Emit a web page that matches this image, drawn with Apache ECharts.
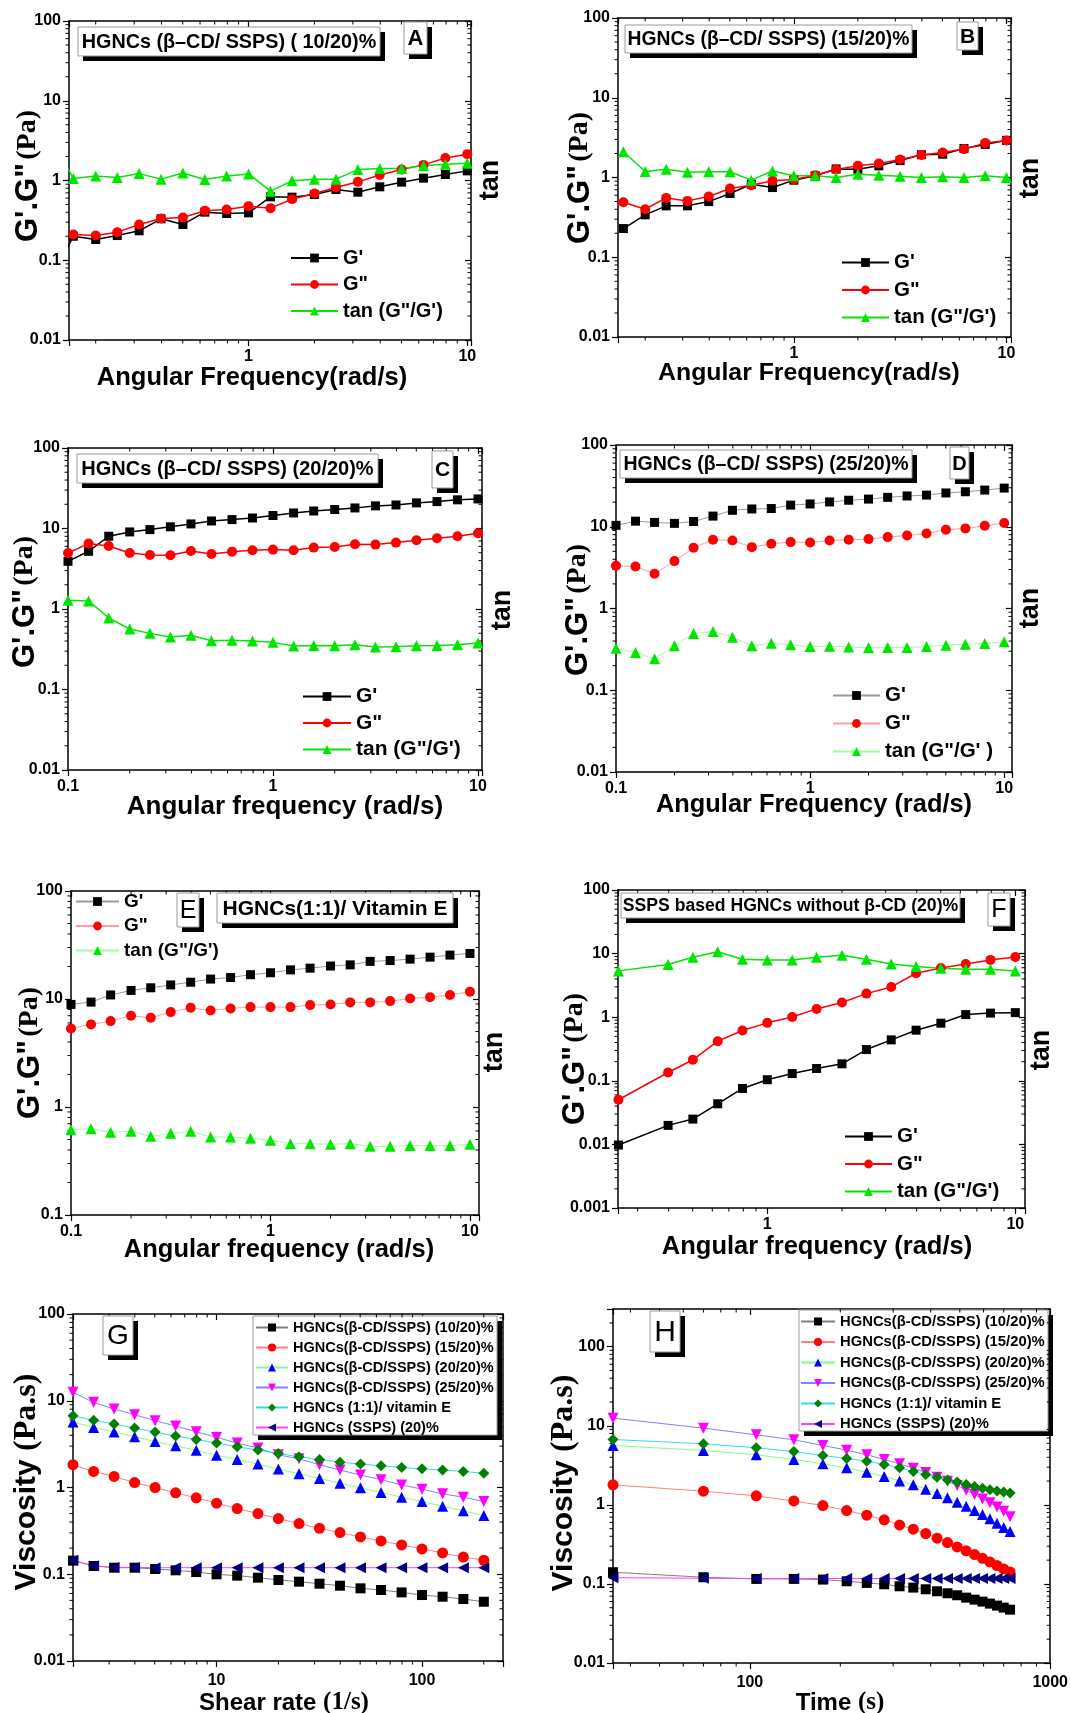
<!DOCTYPE html>
<html><head><meta charset="utf-8">
<script src="https://cdn.jsdelivr.net/npm/echarts/dist/echarts.min.js"></script>
<style>html,body{margin:0;padding:0;background:#fff}#c{width:1071px;height:1713px}</style>
</head><body><div id="c"></div><script>
// ---------------- DATA ----------------
const freqAB = [0.126,0.158,0.2,0.251,0.316,0.398,0.501,0.631,0.794,1,1.26,1.58,2,2.51,3.16,3.98,5.01,6.31,7.94,10];
const freq21 = [0.1,0.126,0.158,0.2,0.251,0.316,0.398,0.501,0.631,0.794,1,1.26,1.58,2,2.51,3.16,3.98,5.01,6.31,7.94,10];
const freqF = [0.251,0.398,0.501,0.631,0.794,1,1.26,1.58,2,2.51,3.16,3.98,5.01,6.31,7.94,10];
const shearRate = [2,2.52,3.17,3.99,5.02,6.32,7.96,10,12.6,15.9,20,25.2,31.7,39.9,50.2,63.2,79.6,100,126,159,200];
const timeS = [35,70,105,140,175,210,245,280,315,350,385,420,455,490,525,560,595,630,665,700,735];

const A_Gp  = [0.06,0.200,0.182,0.204,0.234,0.331,0.281,0.401,0.386,0.393,0.624,0.618,0.667,0.771,0.714,0.833,0.953,1.07,1.19,1.32];
const A_Gpp = [null,0.210,0.204,0.225,0.281,0.334,0.344,0.417,0.433,0.477,0.450,0.583,0.687,0.817,0.962,1.17,1.37,1.57,1.91,2.14];
const A_tan = [3.3,1.06,1.14,1.09,1.22,1.04,1.24,1.03,1.14,1.21,0.735,0.99,1.04,1.04,1.37,1.41,1.41,1.53,1.60,1.65];

const B_Gp  = [null,0.229,0.340,0.441,0.441,0.499,0.630,0.824,0.748,0.926,1.05,1.28,1.27,1.40,1.63,1.93,1.96,2.31,2.60,2.92];
const B_Gpp = [0.37,0.490,0.400,0.555,0.509,0.577,0.727,0.801,0.908,0.944,1.07,1.26,1.40,1.50,1.68,1.91,2.06,2.27,2.70,2.92];
const B_tan = [null,2.10,1.19,1.27,1.16,1.18,1.18,0.926,1.21,1.05,1.05,1.00,1.10,1.07,1.04,1.00,1.02,1.00,1.05,1.00];

const C_Gp  = [3.91,5.21,8.01,9.07,9.69,10.5,11.4,12.4,12.9,13.5,14.5,15.6,16.5,17.2,18.0,19.1,19.6,20.8,21.6,22.7,23.3];
const C_Gpp = [4.97,6.49,6.07,4.97,4.69,4.65,5.26,4.83,5.16,5.36,5.47,5.36,5.79,5.90,6.37,6.31,6.68,7.14,7.56,8.01,8.74];
const C_tan = [1.28,1.26,0.773,0.564,0.498,0.449,0.471,0.404,0.408,0.400,0.385,0.347,0.353,0.350,0.360,0.337,0.340,0.350,0.353,0.360,0.378];

const D_Gp  = [10.4,11.7,11.3,11.0,11.6,13.5,15.9,16.5,16.7,18.4,19.0,20.1,21.1,21.8,22.9,23.8,24.4,25.9,26.8,28.1,29.7];
const D_Gpp = [3.33,3.27,2.66,3.80,5.53,6.93,6.80,5.63,6.19,6.49,6.43,6.80,6.93,7.06,7.47,7.83,8.28,9.19,9.55,10.3,11.1];
const D_tan = [0.327,0.289,0.242,0.349,0.494,0.523,0.446,0.349,0.376,0.359,0.342,0.346,0.339,0.330,0.333,0.333,0.342,0.356,0.366,0.373,0.391];

const E_Gp  = [8.91,9.36,10.9,12.0,12.7,13.5,14.3,15.3,15.8,16.8,17.5,18.6,19.3,20.2,20.7,22.3,22.7,23.4,24.4,25.5,26.4];
const E_Gpp = [5.34,5.82,6.24,7.00,6.70,7.56,8.29,7.84,8.18,8.41,8.41,8.41,8.78,8.91,9.30,9.30,9.56,10.1,10.4,10.9,11.7];
const E_tan = [0.617,0.630,0.583,0.596,0.535,0.571,0.596,0.528,0.528,0.513,0.492,0.458,0.458,0.452,0.458,0.432,0.432,0.439,0.439,0.439,0.452];

const F_Gp  = [0.00977,0.0199,0.0250,0.0435,0.0758,0.104,0.130,0.156,0.185,0.310,0.440,0.625,0.805,1.10,1.16,1.18];
const F_Gpp = [0.0503,0.135,0.214,0.420,0.618,0.815,1.01,1.35,1.70,2.35,2.99,4.91,5.95,6.88,7.96,8.87];
const F_tan = [5.35,6.72,8.75,10.7,8.15,7.95,7.95,8.75,9.41,8.15,6.88,6.25,5.89,5.67,5.67,5.35];

const G_s1 = [0.1435,0.1245,0.119,0.119,0.115,0.111,0.106,0.0998,0.0964,0.0913,0.0859,0.0821,0.0778,0.0738,0.0688,0.0658,0.0618,0.0576,0.0551,0.0518,0.0482];
const G_s2 = [1.83,1.53,1.34,1.14,1.0,0.868,0.760,0.659,0.572,0.501,0.439,0.384,0.339,0.302,0.269,0.242,0.218,0.196,0.176,0.158,0.145];
const G_s3 = [5.68,4.93,4.36,3.85,3.40,3.03,2.68,2.36,2.10,1.86,1.63,1.44,1.27,1.12,0.991,0.875,0.773,0.689,0.609,0.538,0.475];
const G_s4 = [12.5,9.59,8.03,6.90,5.89,5.11,4.40,3.78,3.25,2.85,2.38,2.14,1.83,1.59,1.39,1.23,1.07,0.957,0.845,0.773,0.689];
const G_s5 = [6.72,5.94,5.39,4.84,4.36,3.92,3.58,3.25,2.95,2.70,2.47,2.26,2.10,1.96,1.86,1.78,1.70,1.64,1.59,1.53,1.46];
const G_s6 = [0.145,0.125,0.12,0.12,0.119,0.119,0.119,0.119,0.119,0.119,0.119,0.119,0.119,0.119,0.119,0.119,0.119,0.119,0.119,0.119,0.119];

const H_s1 = [0.1406,0.1215,0.1157,0.1157,0.1135,0.108,0.103,0.099,0.0934,0.0899,0.0856,0.0808,0.0762,0.0719,0.0671,0.0633,0.0598,0.0564,0.0532,0.0502,0.0473];
const H_s2 = [1.79,1.49,1.30,1.12,0.981,0.848,0.740,0.646,0.558,0.492,0.434,0.379,0.334,0.294,0.262,0.235,0.211,0.190,0.171,0.155,0.142];
const H_s3 = [5.64,4.87,4.30,3.75,3.30,2.94,2.59,2.28,2.01,1.79,1.58,1.39,1.23,1.08,0.962,0.848,0.755,0.665,0.586,0.517,0.460];
const H_s4 = [12.5,9.34,7.69,6.65,5.64,4.92,4.30,3.75,3.30,2.91,2.57,2.24,1.99,1.76,1.53,1.35,1.19,1.06,0.943,0.832,0.705];
const H_s5 = [6.71,5.92,5.27,4.73,4.21,3.86,3.57,3.24,2.94,2.64,2.42,2.24,2.07,1.94,1.81,1.71,1.62,1.55,1.50,1.45,1.41];
const H_s6 = [0.12,0.118,0.117,0.117,0.117,0.117,0.117,0.117,0.117,0.117,0.117,0.117,0.117,0.117,0.117,0.117,0.117,0.117,0.117,0.117,0.117];

const dmLabels = ["G'", 'G"', 'tan (G"/G\')'];
const dmLabelsD = ["G'", 'G"', 'tan (G"/G\' )'];
const viscLabels = ['HGNCs(β-CD/SSPS) (10/20)%','HGNCs(β-CD/SSPS) (15/20)%','HGNCs(β-CD/SSPS) (20/20)%','HGNCs(β-CD/SSPS) (25/20)%','HGNCs (1:1)/ vitamin E','HGNCs (SSPS) (20)%'];

// ---------------- LAYOUT / STYLE ----------------
const SANS = 'Arial, "Liberation Sans", Helvetica, sans-serif';
const SERIF = '"Times New Roman", "Liberation Serif", Times, serif';
const pairs = (xs, ys) => xs.map((x, i) => [x, ys[i]]).filter(p => p[1] != null);

function fmtLog(v) {
  const l = Math.log10(v);
  if (Math.abs(l - Math.round(l)) > 1e-6) return '';
  const p = Math.round(l);
  return p < 0 ? Math.pow(10, p).toFixed(-p) : String(Math.round(Math.pow(10, p)));
}
function minorVals(r) {
  const out = [];
  for (let d = Math.floor(Math.log10(r[0])); d <= Math.ceil(Math.log10(r[1])); d++) {
    for (let m = 2; m <= 9; m++) { const v = m * Math.pow(10, d); if (v > r[0] * 1.0001 && v < r[1] * 0.9999) out.push(v); }
  }
  return out;
}

const panels = [
  {key:'A', grid:{left:69,top:21,width:402,height:319}, x:[0.151,10.4], y:[0.01,100], lm:9},
  {key:'B', grid:{left:618,top:18,width:393,height:319}, x:[0.149,10.5], y:[0.01,100], lm:9},
  {key:'C', grid:{left:68,top:448,width:414,height:322}, x:[0.1,10.46], y:[0.01,100], lm:9},
  {key:'D', grid:{left:616,top:445,width:396,height:327}, x:[0.1,10.97], y:[0.01,100], lm:9},
  {key:'E', grid:{left:71,top:891,width:408,height:324}, x:[0.1,11.1], y:[0.1,100], lm:9},
  {key:'F', grid:{left:618,top:890,width:407,height:318}, x:[0.25,10.94], y:[0.001,100], lm:9},
  {key:'G', grid:{left:73,top:1314,width:430,height:347}, x:[2,248], y:[0.01,100], lm:12},
  {key:'H', grid:{left:613,top:1309,width:441,height:354}, x:[35,1000], y:[0.01,300], lm:12}
];

const grid = [], xAxis = [], yAxis = [], series = [], legend = [], graphic = [];

panels.forEach((p, i) => {
  grid.push(Object.assign({containLabel:false}, p.grid));
  ['bottom','top'].forEach(pos => xAxis.push({
    type:'log', logBase:10, gridIndex:i, min:p.x[0], max:p.x[1], position:pos,
    axisLine:{show:true, lineStyle:{color:'#000', width:1.5}},
    axisTick:{show:true, inside:pos==='top', length:6, lineStyle:{color:'#000', width:1.2}},
    minorTick:{show:false},
    axisLabel:{show:pos==='bottom', formatter:fmtLog, color:'#000', fontSize:16, fontWeight:'bold', fontFamily:SANS, margin:p.lm},
    splitLine:{show:false}
  }));
  ['left','right'].forEach(pos => yAxis.push({
    type:'log', logBase:10, gridIndex:i, min:p.y[0], max:p.y[1], position:pos,
    axisLine:{show:true, lineStyle:{color:'#000', width:1.5}},
    axisTick:{show:true, inside:pos==='right', length:6, lineStyle:{color:'#000', width:1.2}},
    minorTick:{show:false},
    axisLabel:{show:pos==='left', formatter:fmtLog, color:'#000', fontSize:16, fontWeight:'bold', fontFamily:SANS, margin:8},
    splitLine:{show:false}
  }));
  // minor log ticks (2..9 x 10^n) placed through the axes' own scales
  const mx = minorVals(p.x), my = minorVals(p.y);
  series.push({
    type:'custom', xAxisIndex:2*i, yAxisIndex:2*i, silent:true, clip:false, z:3,
    encode:{x:0, y:1}, tooltip:{show:false},
    data: mx.map(v => [v, p.y[0], 0]).concat(my.map(v => [p.x[0], v, 1])),
    renderItem(params, api) {
      const cs = params.coordSys, L = 3.5, st = {stroke:'#000', lineWidth:1};
      const lines = [];
      if (api.value(2) === 0) {
        const cx = api.coord([api.value(0), p.y[0]])[0];
        lines.push({type:'line', shape:{x1:cx, y1:cs.y + cs.height, x2:cx, y2:cs.y + cs.height + L}, style:st});
        lines.push({type:'line', shape:{x1:cx, y1:cs.y, x2:cx, y2:cs.y + L}, style:st});
      } else {
        const cy = api.coord([p.x[0], api.value(1)])[1];
        lines.push({type:'line', shape:{x1:cs.x, y1:cy, x2:cs.x - L, y2:cy}, style:st});
        lines.push({type:'line', shape:{x1:cs.x + cs.width, y1:cy, x2:cs.x + cs.width - L, y2:cy}, style:st});
      }
      return {type:'group', children:lines};
    }
  });
});

// dynamic-mechanical panels
const dmSets = [
  {k:'A', gi:0, f:freqAB, d:[A_Gp, A_Gpp, A_tan], light:false, lab:dmLabels},
  {k:'B', gi:1, f:freqAB, d:[B_Gp, B_Gpp, B_tan], light:false, lab:dmLabels},
  {k:'C', gi:2, f:freq21, d:[C_Gp, C_Gpp, C_tan], light:false, lab:dmLabels},
  {k:'D', gi:3, f:freq21, d:[D_Gp, D_Gpp, D_tan], light:true, lab:dmLabelsD},
  {k:'E', gi:4, f:freq21, d:[E_Gp, E_Gpp, E_tan], light:true, lab:dmLabels},
  {k:'F', gi:5, f:freqF,  d:[F_Gp, F_Gpp, F_tan], light:false, lab:dmLabels}
];
const dmSym = ['rect','circle','triangle'];
const dmCol = ['#000000','#ff0000','#00e600'];
const dmLight = ['#9a9a9a','#ff9c9c','#9cff9c'];
const dmSize = [9,10,11];
dmSets.forEach(s => {
  s.d.forEach((arr, j) => series.push({
    type:'line', name:s.k + '|' + s.lab[j], xAxisIndex:2*s.gi, yAxisIndex:2*s.gi,
    data:pairs(s.f, arr), symbol:dmSym[j], symbolSize:dmSize[j], showAllSymbol:true,
    itemStyle:{color:dmCol[j]}, lineStyle:{color:s.light ? dmLight[j] : dmCol[j], width:s.light ? 1 : 1.5},
    emphasis:{disabled:true}, clip:true
  }));
});

// viscosity panels
const vSym = ['rect','circle','triangle','triangle','diamond','triangle'];
const vRot = [0,0,0,180,0,90];
const vCol = ['#000000','#ff0000','#0000ff','#ff00ff','#008000','#000080'];
const vLine = ['#808080','#ff8080','#80ff80','#8080ff','#30e0e0','#ff40ff'];
const vSize = [10,11,11,11,11,11];
[{k:'G', gi:6, x:shearRate, d:[G_s1,G_s2,G_s3,G_s4,G_s5,G_s6]},
 {k:'H', gi:7, x:timeS, d:[H_s1,H_s2,H_s3,H_s4,H_s5,H_s6]}].forEach(s => {
  s.d.forEach((arr, j) => series.push({
    type:'line', name:s.k + '|' + viscLabels[j], xAxisIndex:2*s.gi, yAxisIndex:2*s.gi,
    data:pairs(s.x, arr), symbol:vSym[j], symbolRotate:vRot[j], symbolSize:vSize[j], showAllSymbol:true,
    itemStyle:{color:vCol[j]}, lineStyle:{color:vLine[j], width:1},
    emphasis:{disabled:true}, clip:true
  }));
});

// legends
const lgFmt = n => n.split('|')[1];
function addLegend(k, labels, left, top, w, h, gap, fs) {
  legend.push({orient:'vertical', left, top, padding:0, itemWidth:w, itemHeight:h, itemGap:gap,
    selectedMode:false, formatter:lgFmt, z:6,
    textStyle:{fontSize:fs, fontWeight:'bold', fontFamily:SANS, color:'#000'},
    data:labels.map(l => k + '|' + l)});
}
addLegend('A', dmLabels, 290, 248, 47, 11, 6.5, 20);
addLegend('B', dmLabels, 841, 252, 47, 11, 6.5, 20.5);
addLegend('C', dmLabels, 302, 686, 48, 11, 5.5, 21);
addLegend('D', dmLabelsD, 832, 685, 47, 11, 7, 20.5);
addLegend('E', dmLabels, 75, 892, 43, 11, 5.5, 19);
addLegend('F', dmLabels, 844, 1126, 47, 11, 6.5, 20.5);
addLegend('G', viscLabels, 255, 1320, 32, 10, 5, 14.5);
addLegend('H', viscLabels, 800, 1314, 34, 10, 5.5, 14.8);

// annotation boxes
function box(x, y, w, h, text, fs, bold, z, off) {
  off = off || 5;
  graphic.push({type:'rect', z:z, shape:{x:x+off, y:y+off, width:w, height:h}, style:{fill:'#000'}});
  graphic.push({type:'rect', z:z, shape:{x:x, y:y, width:w, height:h}, style:{fill:'#fff', stroke:'#9a9a9a', lineWidth:1}});
  if (text) graphic.push({type:'text', z:z, x:x + w/2, y:y + h/2 + 1,
    style:{text:text, fontSize:fs, fontWeight:bold ? 'bold' : 'normal', fontFamily:SANS, fill:'#000', align:'center', verticalAlign:'middle'}});
}
box(78, 27, 302, 29, 'HGNCs (β–CD/ SSPS) ( 10/20)%', 19.8, true, 8);
box(404, 22, 23, 32, 'A', 22, true, 8);
box(625, 25, 287, 28, 'HGNCs (β–CD/ SSPS) (15/20)%', 19.3, true, 8);
box(957, 22, 21, 28, 'B', 21, true, 8);
box(77, 454, 301, 29, 'HGNCs (β–CD/ SSPS) (20/20)%', 20, true, 8);
box(432, 451, 21, 37, 'C', 21, true, 8);
box(620, 450, 292, 28, 'HGNCs (β–CD/ SSPS) (25/20)%', 19.5, true, 8);
box(950, 447, 19, 32, 'D', 20, true, 8);
box(217, 893, 236, 30, 'HGNCs(1:1)/ Vitamin E', 21, true, 8);
box(177, 893, 22, 34, 'E', 25, false, 8);
box(621, 893, 339, 25, 'SSPS based HGNCs without β-CD (20)%', 17.6, true, 8);
box(988, 893, 22, 33, 'F', 25, false, 8);
box(103, 1316, 30, 39, 'G', 28, false, 8);
box(650, 1311, 30, 41, 'H', 30, false, 8);
box(253, 1316, 244, 119, '', 0, false, 3);
box(799, 1310, 249, 121, '', 0, false, 3);

// axis titles
function title(x, y, rot, text, rich) {
  graphic.push({type:'text', z:8, x, y, rotation:rot ? Math.PI/2 : 0,
    style:{text, rich, fill:'#000', align:'center', verticalAlign:'middle'}});
}
const richDM = {a:{fontSize:31, fontWeight:'bold', fontFamily:SANS, fill:'#000'}, b:{fontSize:28, fontWeight:'bold', fontFamily:SERIF, fill:'#000'}};
const richV = {a:{fontSize:30, fontWeight:'bold', fontFamily:SANS, fill:'#000'}, b:{fontSize:32, fontWeight:'bold', fontFamily:SERIF, fill:'#000'}};
const richX = {a:{fontSize:24, fontWeight:'bold', fontFamily:SANS, fill:'#000'}, b:{fontSize:25, fontWeight:'bold', fontFamily:SERIF, fill:'#000'}};
const xr = fs => ({a:{fontSize:fs, fontWeight:'bold', fontFamily:SANS, fill:'#000'}});
const tanRich = {a:{fontSize:27, fontWeight:'bold', fontFamily:SANS, fill:'#000'}};
const yName = '{a|G\'.G"} {b|(Pa)}';
title(252, 378, false, '{a|Angular Frequency(rad/s)}', xr(25.5));
title(809, 373, false, '{a|Angular Frequency(rad/s)}', xr(24.8));
title(285, 807, false, '{a|Angular frequency (rad/s)}', xr(26));
title(814, 805, false, '{a|Angular Frequency (rad/s)}', xr(25.4));
title(279, 1250, false, '{a|Angular frequency (rad/s)}', xr(25.5));
title(817, 1247, false, '{a|Angular frequency (rad/s)}', xr(25.5));
title(284, 1703, false, '{a|Shear rate }{b|(1/s)}', richX);
title(840, 1703, false, '{a|Time }{b|(s)}', richX);
[[28,176],[580,178],[25,602],[578,610],[30,1053],[575,1059]].forEach(c => title(c[0], c[1], true, yName, richDM));
title(27, 1482, true, '{a|Viscosity }{b|(Pa.s)}', richV);
title(564, 1483, true, '{a|Viscosity }{b|(Pa.s)}', richV);
[[491,180],[1031,178],[503,610],[1031,608],[495,1052],[1042,1050]].forEach(c => title(c[0], c[1], true, '{a|tan}', tanRich));

const chart = echarts.init(document.getElementById('c'), null, {renderer:'canvas'});
chart.setOption({animation:false, backgroundColor:'#fff', grid, xAxis, yAxis, series, legend, graphic});
</script></body></html>
